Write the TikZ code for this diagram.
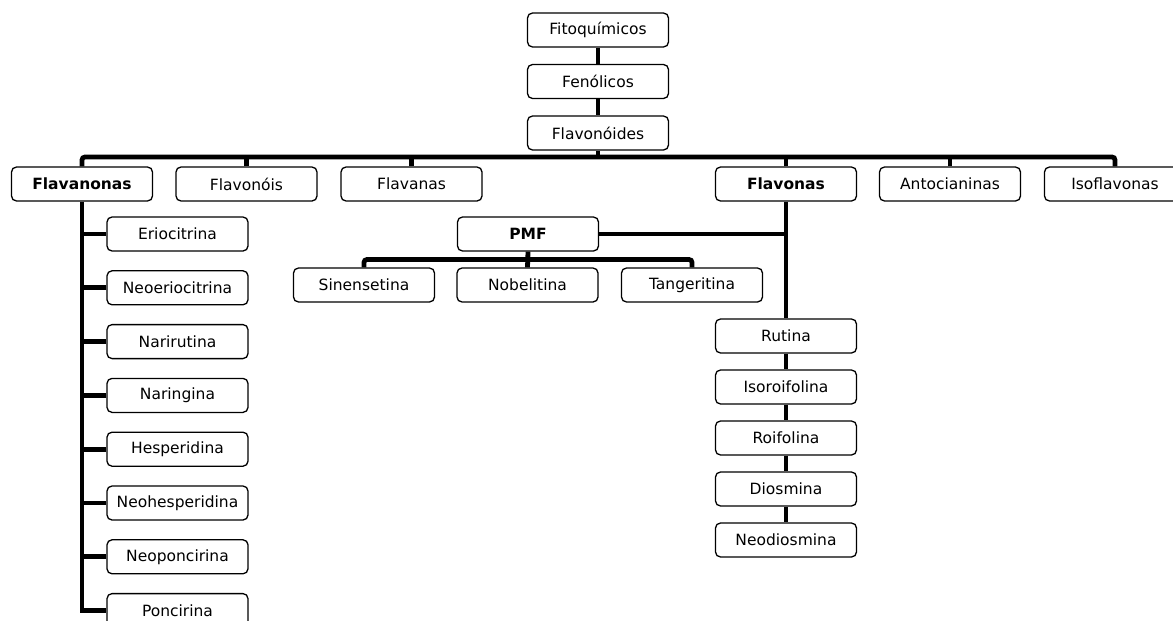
\documentclass[tikz,border=0pt]{standalone}
\usepackage{fontspec}
\setmainfont{DejaVu Sans}
\usepackage{tikz}
\usetikzlibrary{positioning, calc}

\begin{document}
\begin{tikzpicture}[
  x=1pt, y=-1pt,
  box/.style={
    rectangle, rounded corners=5pt,
    minimum width=141pt, minimum height=34pt,
    inner sep=0pt, align=center, draw=black, line width=1.3pt,
    font=\fontsize{15.5pt}{18pt}\selectfont
  },
  bbox/.style={box, font=\fontsize{15.5pt}{18pt}\selectfont\bfseries},
  link/.style={line width=4.8pt, color=black}
]
  \clip (0,0) rectangle (1173,621);

  % top chain
  \node[box] (fito) at (598,30) {Fitoquímicos};
  \node[box, below=16.2pt of fito] (feno) {Fenólicos};
  \node[box, below=16.2pt of feno] (flavo) {Flavonóides};

  % classes
  \node[bbox] (flavanonas) at (82,184) {Flavanonas};
  \node[box] (flavonois) at (246.5,184) {Flavonóis};
  \node[box] (flavanas) at (411.5,184) {Flavanas};
  \node[bbox] (flavonas) at (786,184) {Flavonas};
  \node[box] (antoc) at (950,184) {Antocianinas};
  \node[box] (isofl) at (1115,184) {Isoflavonas};

  % flavanonas
  \node[box] (erio) at (177.5,234) {Eriocitrina};
  \node[box, below=18.5pt of erio] (neoerio) {Neoeriocitrina};
  \node[box, below=18.5pt of neoerio] (nariru) {Narirutina};
  \node[box, below=18.5pt of nariru] (naring) {Naringina};
  \node[box, below=18.5pt of naring] (hesp) {Hesperidina};
  \node[box, below=18.5pt of hesp] (neohesp) {Neohesperidina};
  \node[box, below=18.5pt of neohesp] (neoponc) {Neoponcirina};
  \node[box, below=18.5pt of neoponc] (ponc) {Poncirina};

  % flavonas
  \node[bbox] (pmf) at (528,234) {PMF};
  \node[box] (sinen) at (364,285) {Sinensetina};
  \node[box] (nobel) at (527.5,285) {Nobelitina};
  \node[box] (tanger) at (692,285) {Tangeritina};
  \node[box] (rutina) at (786,336) {Rutina};
  \node[box, below=15.7pt of rutina] (isoroi) {Isoroifolina};
  \node[box, below=15.7pt of isoroi] (roifol) {Roifolina};
  \node[box, below=15.7pt of roifol] (diosm) {Diosmina};
  \node[box, below=15.7pt of diosm] (neodiosm) {Neodiosmina};

  \coordinate (bar) at (0,157);
  \coordinate (pmfbar) at ($(pmf.south)!0.5!(nobel.north)$);

  \draw[link] (fito) -- (feno);
  \draw[link] (feno) -- (flavo);
  \draw[link] (flavo.south) -- (flavo.south |- bar);
  \draw[link, rounded corners=3pt] (flavanonas.north) |- (bar -| isofl.north) -- (isofl.north);
  \draw[link] (flavonois.north) -- (flavonois.north |- bar);
  \draw[link] (flavanas.north) -- (flavanas.north |- bar);
  \draw[link] (flavonas.north) -- (flavonas.north |- bar);
  \draw[link] (antoc.north) -- (antoc.north |- bar);

  \draw[link] (flavanonas.south) |- (ponc.west);
  \draw[link] (erio.west) -- (erio.west -| flavanonas.south);
  \draw[link] (neoerio.west) -- (neoerio.west -| flavanonas.south);
  \draw[link] (nariru.west) -- (nariru.west -| flavanonas.south);
  \draw[link] (naring.west) -- (naring.west -| flavanonas.south);
  \draw[link] (hesp.west) -- (hesp.west -| flavanonas.south);
  \draw[link] (neohesp.west) -- (neohesp.west -| flavanonas.south);
  \draw[link] (neoponc.west) -- (neoponc.west -| flavanonas.south);

  \draw[link] (flavonas.south) -- (rutina.north);
  \draw[link] (pmf.east) -- (pmf.east -| flavonas.south);
  \draw[link] (pmf.south) -- (nobel.north);
  \draw[link, rounded corners=3pt] (sinen.north) |- (pmfbar) -| (tanger.north);
  \draw[link] (rutina) -- (isoroi);
  \draw[link] (isoroi) -- (roifol);
  \draw[link] (roifol) -- (diosm);
  \draw[link] (diosm) -- (neodiosm);
\end{tikzpicture}
\end{document}
